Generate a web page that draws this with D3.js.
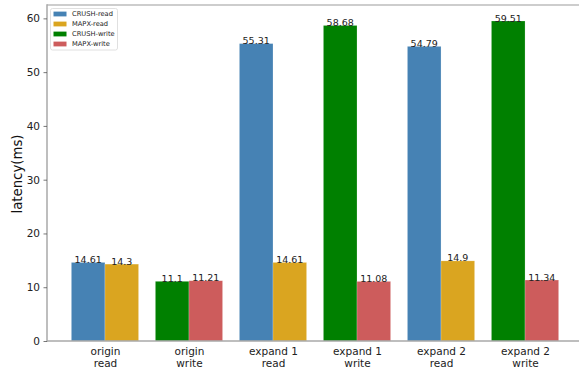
<!DOCTYPE html>
<html>
<head>
<meta charset="utf-8">
<script src="https://cdn.jsdelivr.net/npm/d3@7"></script>
<style>
  html, body { margin: 0; padding: 0; background: #fff; }
  svg { display: block; font-family: "DejaVu Sans", sans-serif; }
</style>
</head>
<body>
<svg id="chart" width="579" height="373"></svg>
<script>
// Latency per scenario, two bars per group
const groups = ["origin\nread", "origin\nwrite", "expand 1\nread", "expand 1\nwrite", "expand 2\nread", "expand 2\nwrite"];
const crushValues = [14.61, 11.1, 55.31, 58.68, 54.79, 59.51];
const mapxValues = [14.3, 11.21, 14.61, 11.08, 14.9, 11.34];
const groupKinds = ["read", "write", "read", "write", "read", "write"];
const seriesNames = ["CRUSH-read", "MAPX-read", "CRUSH-write", "MAPX-write"];
const seriesColors = ["#4682b4", "#daa520", "#008000", "#cd5c5c"];
const yTicks = [0, 10, 20, 30, 40, 50, 60];

const svg = d3.select("#chart");
const W = 579, H = 373;
const barW = 0.4;

const x = d3.scaleLinear().domain([-0.69, groups.length - 1 + 0.69]).range([47, 583]);
const yMax = d3.max(crushValues.concat(mapxValues)) * 1.05;
const y = d3.scaleLinear().domain([0, yMax]).range([341, 5]);

const color = d3.scaleOrdinal().domain(seriesNames).range(seriesColors);

// Flatten into bar records
const bars = [];
groups.forEach((g, i) => {
  const k = groupKinds[i];
  bars.push({ i, offset: -barW, value: crushValues[i], series: "CRUSH-" + k });
  bars.push({ i, offset: 0, value: mapxValues[i], series: "MAPX-" + k });
});

const clip = svg.append("defs").append("clipPath").attr("id", "plotclip");
clip.append("rect").attr("x", 0).attr("y", 0).attr("width", W).attr("height", H);

const plot = svg.append("g").attr("clip-path", "url(#plotclip)");

plot.selectAll("rect.bar")
  .data(bars)
  .join("rect")
  .attr("class", "bar")
  .attr("x", d => x(d.i + d.offset))
  .attr("width", d => x(d.i + d.offset + barW) - x(d.i + d.offset))
  .attr("y", d => y(d.value))
  .attr("height", d => y(0) - y(d.value))
  .attr("fill", d => color(d.series))
  .attr("stroke", "#ffffff")
  .attr("stroke-opacity", 0.35)
  .attr("stroke-width", 0.6);

// Value labels sitting on each bar
plot.selectAll("text.val")
  .data(bars)
  .join("text")
  .attr("class", "val")
  .attr("x", d => x(d.i + d.offset + barW / 2))
  .attr("y", d => y(d.value) + 0.5)
  .attr("text-anchor", "middle")
  .attr("font-size", "9.5px")
  .attr("fill", "#222")
  .text(d => d3.format("")(d.value));

// Spines
const spine = "#a8a8a8";
svg.append("line").attr("x1", x.range()[0]).attr("x2", x.range()[1]).attr("y1", y(yMax)).attr("y2", y(yMax))
  .attr("stroke", "#bdbdbd").attr("stroke-width", 1.5);
svg.append("line").attr("x1", x.range()[0]).attr("x2", x.range()[1]).attr("y1", y(0)).attr("y2", y(0))
  .attr("stroke", spine).attr("stroke-width", 1.5);
svg.append("line").attr("x1", x.range()[0]).attr("x2", x.range()[0]).attr("y1", y(0) + 0.75).attr("y2", y(yMax) - 0.75)
  .attr("stroke", spine).attr("stroke-width", 1.5);

// Y axis
const yAxis = svg.append("g")
  .attr("transform", `translate(${x.range()[0]},0)`)
  .call(d3.axisLeft(y).tickValues(yTicks).tickSize(3.5).tickPadding(3.5).tickFormat(d3.format("d")));
yAxis.select(".domain").remove();
yAxis.selectAll(".tick line").attr("stroke", "#555").attr("stroke-width", 0.8);
yAxis.selectAll(".tick text").attr("font-size", "10.5px").attr("fill", "#222")
  .attr("font-family", "DejaVu Sans, sans-serif");

// X axis with two-line labels, no tick marks
const xAxis = svg.append("g")
  .attr("transform", `translate(0,${y(0)})`)
  .call(d3.axisBottom(x).tickValues(d3.range(groups.length)).tickSize(0).tickFormat(""));
xAxis.select(".domain").remove();
xAxis.selectAll(".tick line").remove();
xAxis.selectAll(".tick").each(function(d) {
  const t = d3.select(this).append("text")
    .attr("text-anchor", "middle")
    .attr("font-size", "10.5px")
    .attr("fill", "#222")
    .attr("font-family", "DejaVu Sans, sans-serif");
  groups[d].split("\n").forEach((line, j) => {
    t.append("tspan").attr("x", 0).attr("y", 14 + j * 12).text(line);
  });
});

// Y label
svg.append("text")
  .attr("transform", `translate(22,${(y(0) + y(yMax)) / 2 + 1}) rotate(-90)`)
  .attr("text-anchor", "middle")
  .attr("font-size", "13.3px")
  .attr("fill", "#111")
  .text("latency(ms)");

// Legend
const legend = svg.append("g").attr("transform", "translate(50.5,8.5)");
legend.append("rect")
  .attr("width", 67).attr("height", 41.5).attr("rx", 2)
  .attr("fill", "#fff").attr("fill-opacity", 0.8)
  .attr("stroke", "#d8d8d8").attr("stroke-width", 0.8);
seriesNames.forEach((name, j) => {
  const row = legend.append("g").attr("transform", `translate(0,${5.5 + j * 10})`);
  row.append("rect").attr("x", 3).attr("y", -2.4).attr("width", 13).attr("height", 4.8)
    .attr("fill", color(name));
  row.append("text").attr("x", 21.5).attr("y", 2.4)
    .attr("font-size", "6.7px").attr("fill", "#222").text(name);
});
</script>
</body>
</html>
